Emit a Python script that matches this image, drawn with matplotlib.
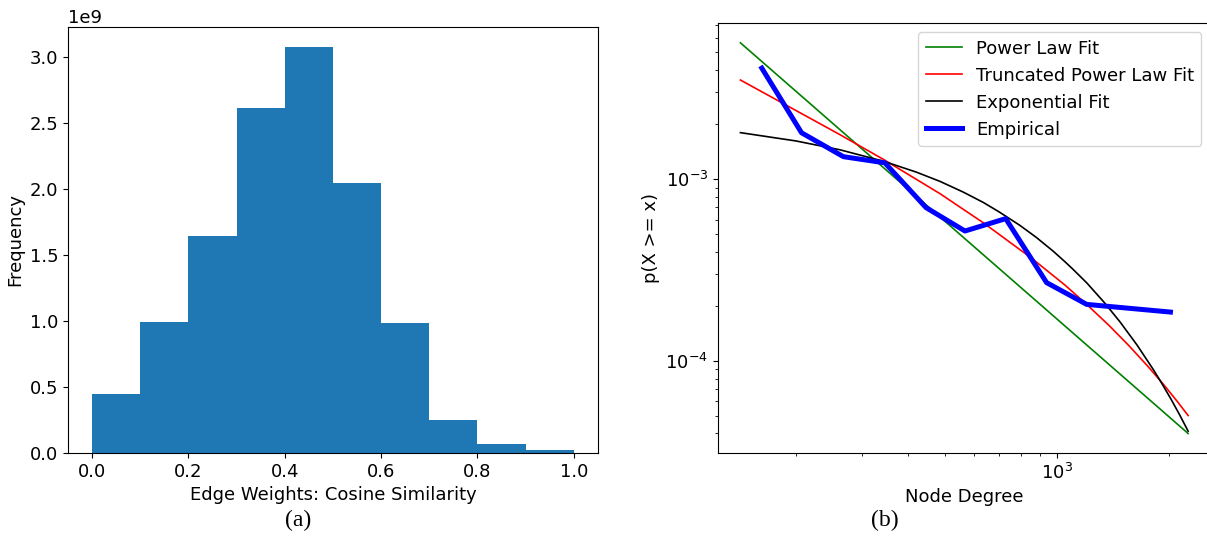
import matplotlib
matplotlib.use("Agg")
from matplotlib import pyplot as plt

# Histogram of edge weights (cosine similarity), 10 bins on [0, 1]
bin_edges = [0.0, 0.1, 0.2, 0.3, 0.4, 0.5, 0.6, 0.7, 0.8, 0.9, 1.0]
bin_counts = [0.45e9, 0.99e9, 1.64e9, 2.61e9, 3.07e9, 2.04e9, 0.98e9, 0.25e9, 0.07e9, 0.025e9]

# Degree distribution: empirical curve and the three fits
emp_x = [162, 207, 268, 346, 446, 567, 729, 938, 1201, 2013]
emp_y = [4.08e-3, 1.80e-3, 1.33e-3, 1.23e-3, 6.98e-4, 5.19e-4, 6.07e-4, 2.70e-4, 2.05e-4, 1.86e-4]

pl_x = [142, 2245]
pl_y = [5.62e-3, 4.0e-5]

tpl_x = [142, 262, 343, 486, 635, 855, 1050, 1201, 1380, 1550, 1750, 1928, 2100, 2245]
tpl_y = [3.51e-3, 1.76e-3, 1.285e-3, 8.33e-4, 5.76e-4, 3.68e-4, 2.62e-4, 2.05e-4,
         1.567e-4, 1.23e-4, 9.38e-5, 7.45e-5, 6.00e-5, 5.02e-5]

exp_x = [142, 200, 262, 343, 420, 486, 560, 635, 700, 796, 880, 977, 1050, 1100,
         1202, 1340, 1476, 1640, 1811, 1900, 2020, 2130, 2245]
exp_y = [1.803e-3, 1.623e-3, 1.452e-3, 1.256e-3, 1.094e-3, 9.73e-4, 8.51e-4, 7.45e-4,
         6.61e-4, 5.57e-4, 4.79e-4, 4.02e-4, 3.52e-4, 3.22e-4, 2.69e-4, 2.095e-4,
         1.64e-4, 1.222e-4, 8.99e-5, 7.66e-5, 6.18e-5, 5.07e-5, 4.12e-5]

plt.rcParams['font.size'] = 13

fig = plt.figure(figsize=(12.07, 5.42), dpi=100)

# (a) histogram
ax1 = fig.add_axes([0.0563, 0.1642, 0.4391, 0.786])
widths = [b - a for a, b in zip(bin_edges[:-1], bin_edges[1:])]
ax1.bar(bin_edges[:-1], bin_counts, width=widths, align='edge', color='#1f77b4')
ax1.set_xlabel("Edge Weights: Cosine Similarity")
ax1.set_ylabel("Frequency")

# (b) CCDF on log-log axes
ax2 = fig.add_axes([0.5949, 0.1642, 0.408, 0.7928])
ax2.plot(pl_x, pl_y, color='green', lw=1.2, label="Power Law Fit")
ax2.plot(tpl_x, tpl_y, color='red', lw=1.2, label="Truncated Power Law Fit")
ax2.plot(exp_x, exp_y, color='black', lw=1.2, label="Exponential Fit")
ax2.plot(emp_x, emp_y, color='blue', lw=3.6, label="Empirical")
ax2.set_xscale('log')
ax2.set_yscale('log')
ax2.set_xlabel("Node Degree")
ax2.set_ylabel("p(X >= x)")
ax2.legend(loc='upper right')

# Panel captions
fig.text(0.247, 0.04, "(a)", ha='center', va='center', family='Liberation Serif', fontsize=17)
fig.text(0.733, 0.04, "(b)", ha='center', va='center', family='Liberation Serif', fontsize=17)

fig.savefig("out.png", dpi=100)
